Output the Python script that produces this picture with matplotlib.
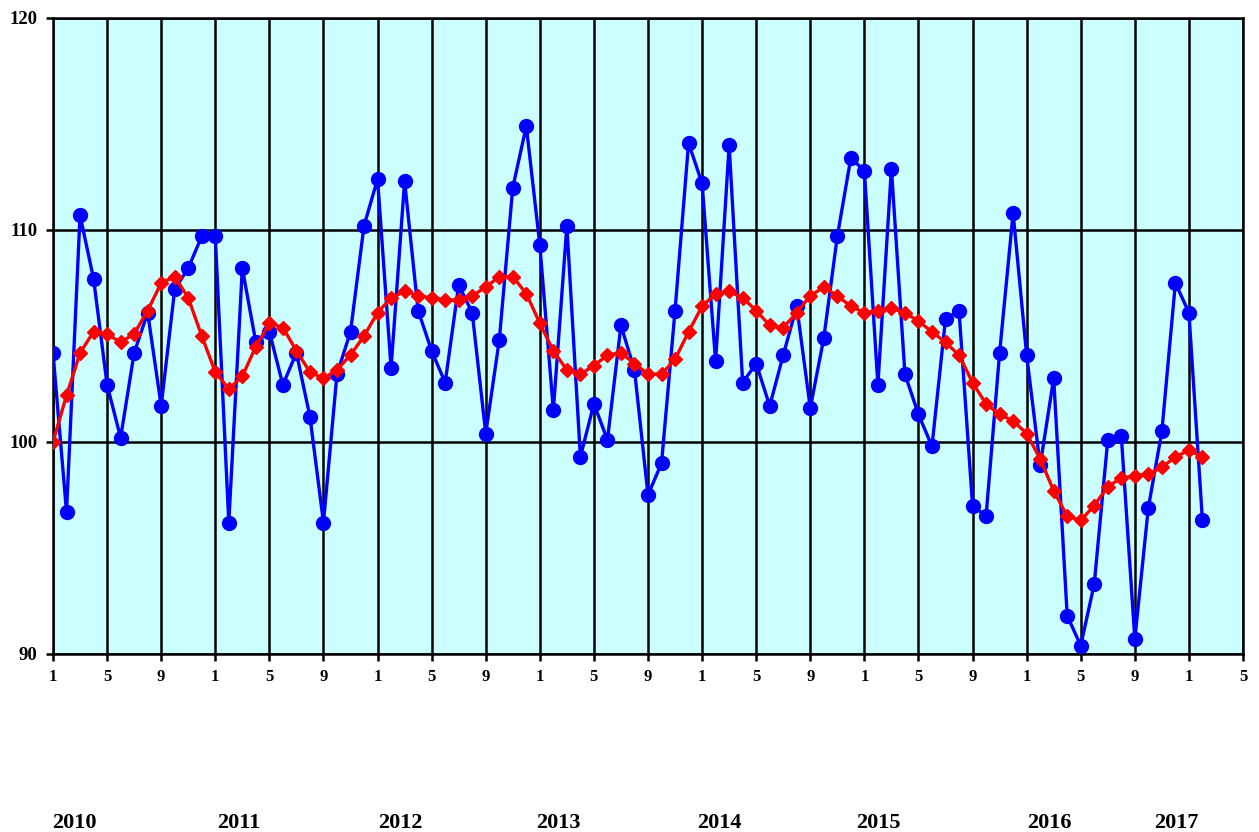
import matplotlib
matplotlib.use("Agg")
import matplotlib.pyplot as plt
import matplotlib.transforms as mtransforms

# Monthly index, Jan 2010 .. Feb 2017
monthly = [104.2, 96.7, 110.7, 107.7, 102.7, 100.2, 104.2, 106.1, 101.7, 107.2, 108.2, 109.7,
           109.7, 96.2, 108.2, 104.7, 105.2, 102.7, 104.2, 101.2, 96.2, 103.2, 105.2, 110.2,
           112.4, 103.5, 112.3, 106.2, 104.3, 102.8, 107.4, 106.1, 100.4, 104.8, 112.0, 114.9,
           109.3, 101.5, 110.2, 99.3, 101.8, 100.1, 105.5, 103.4, 97.5, 99.0, 106.2, 114.1,
           112.2, 103.8, 114.0, 102.8, 103.7, 101.7, 104.1, 106.4, 101.6, 104.9, 109.7, 113.4,
           112.8, 102.7, 112.9, 103.2, 101.3, 99.8, 105.8, 106.2, 97.0, 96.5, 104.2, 110.8,
           104.1, 98.9, 103.0, 91.8, 90.4, 93.3, 100.1, 100.3, 90.7, 96.9, 100.5, 107.5,
           106.1, 96.3]

trend = [100.0, 102.2, 104.2, 105.2, 105.1, 104.7, 105.1, 106.2, 107.5, 107.8, 106.8, 105.0,
         103.3, 102.5, 103.1, 104.5, 105.6, 105.4, 104.3, 103.3, 103.0, 103.4, 104.1, 105.0,
         106.1, 106.8, 107.1, 106.9, 106.8, 106.7, 106.7, 106.9, 107.3, 107.8, 107.8, 107.0,
         105.6, 104.3, 103.4, 103.2, 103.6, 104.1, 104.2, 103.7, 103.2, 103.2, 103.9, 105.2,
         106.4, 107.0, 107.1, 106.8, 106.2, 105.5, 105.4, 106.1, 106.9, 107.3, 106.9, 106.4,
         106.1, 106.2, 106.3, 106.1, 105.7, 105.2, 104.7, 104.1, 102.8, 101.8, 101.3, 101.0,
         100.4, 99.2, 97.7, 96.5, 96.3, 97.0, 97.9, 98.3, 98.4, 98.5, 98.8, 99.3,
         99.6, 99.3]

month_labels = ["1", "5", "9"]
years = ["2010", "2011", "2012", "2013", "2014", "2015", "2016", "2017"]
year_label_pos = [1.6, 13.7, 25.7, 37.4, 49.3, 61.0, 73.7, 83.1]
y_ticks = [90, 100, 110, 120]

plt.rcParams['font.family'] = ['Liberation Serif', 'DejaVu Serif']
plt.rcParams['font.weight'] = 'bold'

fig = plt.figure(figsize=(12.59, 8.32), dpi=100)
ax = fig.add_axes([53/1259, 1 - 654/832, (1243-53)/1259, (654-18)/832])
ax.set_facecolor('#CCFFFF')

x = list(range(len(monthly)))
ax.plot(x, monthly, color='#0000FF', lw=2.4, marker='o', ms=10, zorder=3)
ax.plot(range(len(trend)), trend, color='#FF0000', lw=2.4, marker='D', ms=7, zorder=4)

n_ticks = 23
xt = [4 * i for i in range(n_ticks)]
ax.set_xticks(xt)
ax.set_xticklabels([month_labels[i % 3] for i in range(n_ticks)])
ax.set_xlim(0, 88)
ax.set_ylim(90, 120)
ax.set_yticks(y_ticks)
ax.set_yticklabels([str(v) for v in y_ticks])

ax.grid(True, color='black', lw=1.8, zorder=1)
ax.set_axisbelow(True)
for s in ax.spines.values():
    s.set_color('black')
    s.set_linewidth(1.8)
    s.set_zorder(2)
ax.tick_params(axis='both', direction='out', length=5, width=1.8, color='black',
               labelsize=12)
ax.tick_params(axis='x', pad=6)
ax.tick_params(axis='y', pad=6, labelsize=13.5)
for lab in ax.get_xticklabels() + ax.get_yticklabels():
    lab.set_fontweight('bold')

trans = mtransforms.blended_transform_factory(ax.transData, fig.transFigure)
for yr, pos in zip(years, year_label_pos):
    fig.text(pos, 1 - 823/832, yr, transform=trans, ha='center', va='center',
             fontsize=16, fontweight='bold')

fig.savefig('out.png', dpi=100)
